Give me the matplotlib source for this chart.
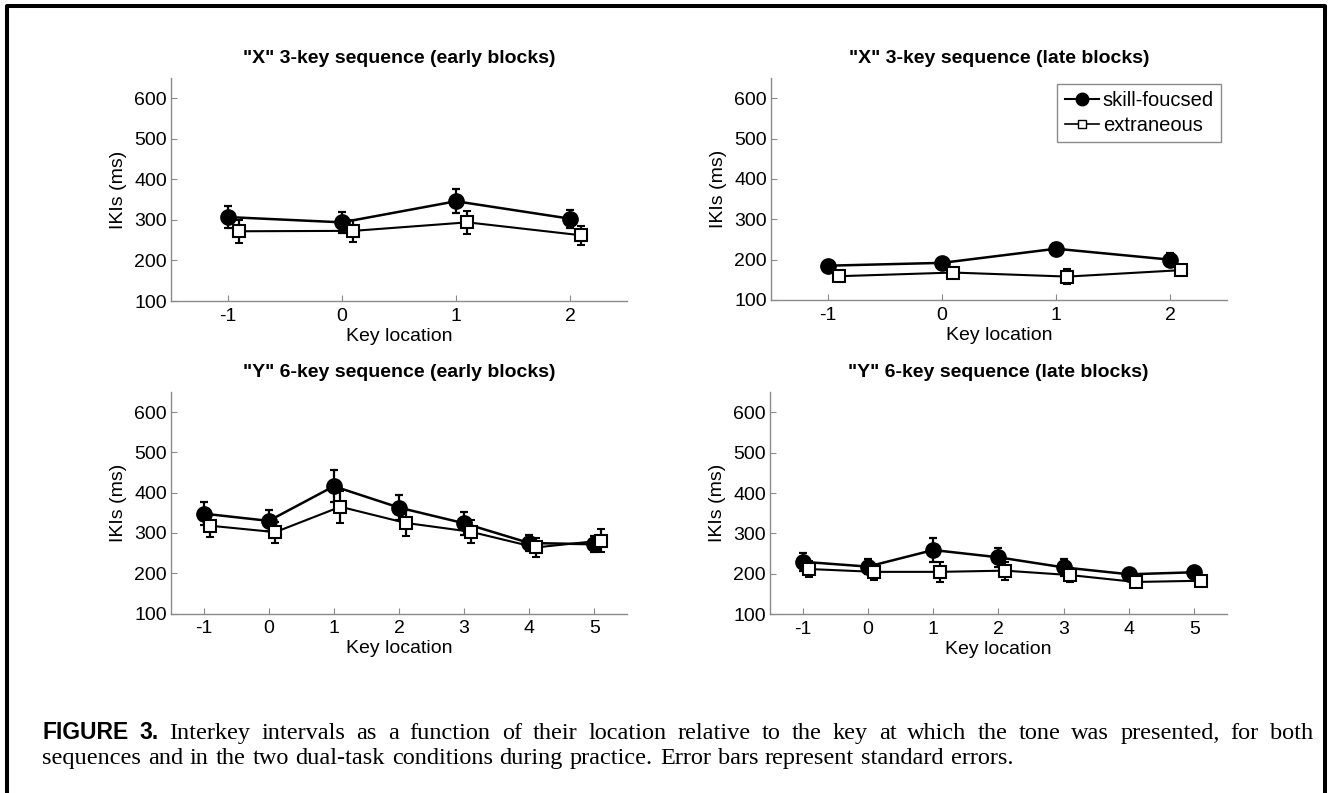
import matplotlib
matplotlib.use('Agg')
import matplotlib.pyplot as plt
from matplotlib.lines import Line2D

plt.rcParams['font.family'] = ['Liberation Sans', 'DejaVu Sans']
plt.rcParams['axes.unicode_minus'] = False  # tick labels use a plain hyphen

#---------------------------------------------------------------data
x3 = [-1, 0, 1, 2]
x6 = [-1, 0, 1, 2, 3, 4, 5]
shift = 0.1  # open squares are drawn a little to the right

x_early_skill = [307, 294, 346, 303]
x_early_skill_se = [28, 26, 30, 22]
x_early_extr = [272, 273, 294, 262]
x_early_extr_se = [29, 27, 28, 23]

x_late_skill = [185, 192, 227, 200]
x_late_skill_se = [12, 13, 14, 17]
x_late_extr = [159, 168, 158, 174]
x_late_extr_se = [12, 10, 18, 12]

y_early_skill = [348, 330, 416, 363, 324, 275, 272]
y_early_skill_se = [28, 26, 40, 31, 29, 21, 20]
y_early_extr = [318, 302, 365, 325, 303, 264, 281]
y_early_extr_se = [27, 26, 40, 32, 28, 23, 29]

y_late_skill = [230, 218, 259, 241, 216, 199, 204]
y_late_skill_se = [22, 19, 29, 24, 21, 12, 14]
y_late_extr = [212, 205, 205, 208, 197, 180, 183]
y_late_extr_se = [19, 20, 25, 22, 17, 10, 10]

titles = ['"X" 3-key sequence (early blocks)', '"X" 3-key sequence (late blocks)',
          '"Y" 6-key sequence (early blocks)', '"Y" 6-key sequence (late blocks)']
yticks = [100, 200, 300, 400, 500, 600]
legend_labels = ['skill-foucsed', 'extraneous']

caption_line1 = ('Interkey intervals as a function of their location relative to the key '
                 'at which the tone was presented, for both')
caption_line2 = ('sequences and in the two dual-task conditions during practice. '
                 'Error bars represent standard errors.')

#---------------------------------------------------------------figure
W, H = 1333, 793
fig = plt.figure(figsize=(W / 100, H / 100), dpi=100)

def px_box(left, right, top, bottom):
    return [left / W, 1 - bottom / H, (right - left) / W, (bottom - top) / H]

boxes = [px_box(171, 627, 78, 301), px_box(771, 1227, 78, 300),
         px_box(171, 627, 392, 613.5), px_box(770, 1227, 392, 614.3)]
panels = [(x3, x_early_skill, x_early_skill_se, x_early_extr, x_early_extr_se),
          (x3, x_late_skill, x_late_skill_se, x_late_extr, x_late_extr_se),
          (x6, y_early_skill, y_early_skill_se, y_early_extr, y_early_extr_se),
          (x6, y_late_skill, y_late_skill_se, y_late_extr, y_late_extr_se)]

grey = '#8a8a8a'
axes = []
for box, (xs, s, s_se, e, e_se), title in zip(boxes, panels, titles):
    ax = fig.add_axes(box)
    ax.errorbar(xs, s, yerr=s_se, color='black', lw=1.8, marker='o', ms=11,
                mfc='black', mec='black', capsize=3, elinewidth=1.6, capthick=1.6,
                label=legend_labels[0], zorder=3)
    ax.errorbar([x + shift for x in xs], e, yerr=e_se, color='black', lw=1.5,
                marker='s', ms=8, mfc='white', mec='black', mew=1.5, capsize=3,
                elinewidth=1.6, capthick=1.6, label=legend_labels[1], zorder=4)
    ax.set_xlim(-1.5, xs[-1] + 0.5)
    ax.set_ylim(100, 650)
    ax.set_xticks(xs)
    ax.set_yticks(yticks)
    for side in ['top', 'right']:
        ax.spines[side].set_visible(False)
    for side in ['left', 'bottom']:
        ax.spines[side].set_color(grey)
        ax.spines[side].set_linewidth(1.0)
    ax.tick_params(direction='in', length=4, color=grey, labelsize=14, labelcolor='black')
    ax.tick_params(axis='x', pad=5)
    ax.tick_params(axis='y', pad=3)
    ax.set_xlabel('Key location', fontsize=14, labelpad=2)
    ax.set_ylabel('IKIs (ms)', fontsize=14, labelpad=5)
    ax.set_title(title, fontsize=14, fontweight='bold', pad=11)
    axes.append(ax)

#legend, only in the top right panel, without error bars
handles = [Line2D([], [], color='black', lw=1.5, marker='o', ms=9, mfc='black'),
           Line2D([], [], color='black', lw=1.2, marker='s', ms=6, mfc='white', mec='black')]
leg = axes[1].legend(handles, legend_labels, loc='upper right', fontsize=14.5,
                     frameon=True, fancybox=False, edgecolor=grey, framealpha=1,
                     borderaxespad=0.3, handlelength=1.7, handletextpad=0.2,
                     borderpad=0.35, labelspacing=0.3)
leg.get_frame().set_linewidth(1.0)

#frame round the figure (open at the bottom)
bx = [7 / W, 7 / W, 1325 / W, 1325 / W]
by = [-0.05, 1 - 5.7 / H, 1 - 5.7 / H, -0.05]
fig.add_artist(Line2D(bx, by, color='black', lw=2.9, transform=fig.transFigure))

#---------------------------------------------------------------caption, justified
fig.canvas.draw()
r = fig.canvas.get_renderer()

def place_line(words, left, right, baseline):
    texts = []
    for w, style in words:
        if style == 'bold':
            t = fig.text(0, 1 - baseline / H, w, fontsize=16.5, fontweight='bold',
                         family=['Liberation Sans'], va='baseline')
        else:
            t = fig.text(0, 1 - baseline / H, w, fontsize=17.5,
                         family=['Liberation Serif'], va='baseline')
        texts.append(t)
    widths = [t.get_window_extent(r).width for t in texts]
    gap = (right - left - sum(widths)) / (len(texts) - 1)
    x = left
    for t, wd in zip(texts, widths):
        t.set_x(x / W)
        x += wd + gap

line1 = [('FIGURE', 'bold'), ('3.', 'bold')] + [(w, 'serif') for w in caption_line1.split()]
line2 = [(w, 'serif') for w in caption_line2.split()]
place_line(line1, 42, 1313, 739)
place_line(line2, 42, 1013, 764)

fig.savefig('out.png', dpi=100)
